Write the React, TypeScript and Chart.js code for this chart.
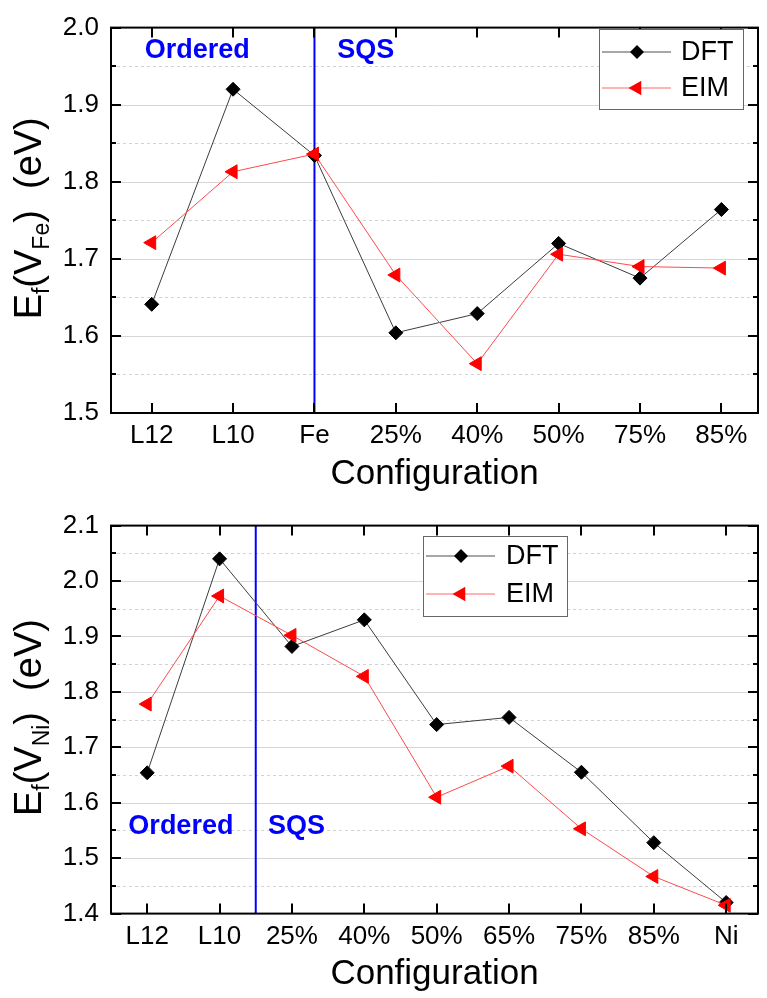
import React, { useEffect, useRef } from "react";
import { Chart, registerables } from "chart.js";

Chart.register(...registerables);

// ---------- data ----------
const topCategories = ["L12", "L10", "Fe", "25%", "40%", "50%", "75%", "85%"];
const topDFT = [1.641, 1.92, 1.834, 1.604, 1.629, 1.72, 1.675, 1.764];
const topEIM = [1.721, 1.813, 1.836, 1.679, 1.564, 1.706, 1.69, 1.688];
const topYTicks = [1.5, 1.6, 1.7, 1.8, 1.9, 2.0];
const topYTickLabels = ["1.5", "1.6", "1.7", "1.8", "1.9", "2.0"];

const bottomCategories = ["L12", "L10", "25%", "40%", "50%", "65%", "75%", "85%", "Ni"];
const bottomDFT = [1.654, 2.04, 1.882, 1.93, 1.741, 1.754, 1.655, 1.528, 1.42];
const bottomEIM = [1.778, 1.973, 1.902, 1.828, 1.61, 1.666, 1.553, 1.467, 1.415];
const bottomYTicks = [1.4, 1.5, 1.6, 1.7, 1.8, 1.9, 2.0, 2.1];
const bottomYTickLabels = ["1.4", "1.5", "1.6", "1.7", "1.8", "1.9", "2.0", "2.1"];

const seriesNames = ["DFT", "EIM"];
const regionNames = ["Ordered", "SQS"];

const FONT = "'Liberation Sans', Arial, Helvetica, sans-serif";

// ---------- plugin ----------
const decorPlugin = {
  id: "decor",
  beforeDatasetsDraw(chart: any, _args: any, opts: any) {
    const { ctx, chartArea: a, scales } = chart;
    const x = scales.x;
    const y = scales.y;
    const ticks: number[] = opts.yTicks;
    ctx.save();
    ctx.lineWidth = 1;
    for (let i = 0; i < ticks.length; i++) {
      if (i > 0 && i < ticks.length - 1) {
        const py = Math.round(y.getPixelForValue(ticks[i])) + 0.5;
        ctx.setLineDash([]);
        ctx.strokeStyle = "#d6d6d6";
        ctx.beginPath();
        ctx.moveTo(a.left, py);
        ctx.lineTo(a.right, py);
        ctx.stroke();
      }
      if (i < ticks.length - 1) {
        const mid = (ticks[i] + ticks[i + 1]) / 2;
        const py = Math.round(y.getPixelForValue(mid)) + 0.5;
        ctx.setLineDash([3, 3]);
        ctx.strokeStyle = "#d2d2d2";
        ctx.beginPath();
        ctx.moveTo(a.left, py);
        ctx.lineTo(a.right, py);
        ctx.stroke();
      }
    }
    ctx.setLineDash([]);
    // divider
    const px = x.getPixelForValue(opts.dividerAt);
    ctx.strokeStyle = "#0000ff";
    ctx.lineWidth = 2;
    ctx.beginPath();
    ctx.moveTo(px, a.top);
    ctx.lineTo(px, a.bottom);
    ctx.stroke();
    ctx.restore();
  },
  afterDatasetsDraw(chart: any, _args: any, opts: any) {
    const { ctx, chartArea: a, scales } = chart;
    const x = scales.x;
    const y = scales.y;
    const ticks: number[] = opts.yTicks;
    const cats: string[] = opts.categories;
    ctx.save();
    // frame
    ctx.strokeStyle = "#000";
    ctx.lineWidth = 2;
    ctx.strokeRect(a.left, a.top, a.right - a.left, a.bottom - a.top);
    // ticks
    ctx.beginPath();
    cats.forEach((_c, i) => {
      const px = Math.round(x.getPixelForValue(i));
      ctx.moveTo(px, a.bottom);
      ctx.lineTo(px, a.bottom - 10);
      ctx.moveTo(px, a.top);
      ctx.lineTo(px, a.top + 10);
    });
    for (let i = 0; i < ticks.length; i++) {
      const py = Math.round(y.getPixelForValue(ticks[i]));
      ctx.moveTo(a.left, py);
      ctx.lineTo(a.left + 10, py);
      ctx.moveTo(a.right, py);
      ctx.lineTo(a.right - 10, py);
      if (i < ticks.length - 1) {
        const pm = Math.round(y.getPixelForValue((ticks[i] + ticks[i + 1]) / 2));
        ctx.moveTo(a.left, pm);
        ctx.lineTo(a.left + 5, pm);
        ctx.moveTo(a.right, pm);
        ctx.lineTo(a.right - 5, pm);
      }
    }
    ctx.stroke();

    // region texts
    ctx.fillStyle = "#0000ff";
    ctx.font = `bold 27px ${FONT}`;
    ctx.textAlign = "left";
    ctx.textBaseline = "alphabetic";
    opts.texts.forEach((t: any) => {
      ctx.fillText(t.text, x.getPixelForValue(t.x), y.getPixelForValue(t.y));
    });

    // legend
    const L = opts.legend;
    ctx.fillStyle = "#fff";
    ctx.fillRect(L.x0, L.y0, L.x1 - L.x0, L.y1 - L.y0);
    ctx.strokeStyle = "#666";
    ctx.lineWidth = 1;
    ctx.strokeRect(L.x0 + 0.5, L.y0 + 0.5, L.x1 - L.x0, L.y1 - L.y0);
    const rows = [L.row0, L.row1];
    seriesNames.forEach((name, i) => {
      const ry = rows[i];
      ctx.strokeStyle = i === 0 ? "#8a8a8a" : "#ff9a9a";
      ctx.lineWidth = 1.5;
      ctx.beginPath();
      ctx.moveTo(L.lineX0, ry);
      ctx.lineTo(L.lineX1, ry);
      ctx.stroke();
      const mx = L.markX;
      ctx.fillStyle = i === 0 ? "#000" : "#ff0000";
      ctx.beginPath();
      if (i === 0) {
        const r = 7;
        ctx.moveTo(mx, ry - r);
        ctx.lineTo(mx + r, ry);
        ctx.lineTo(mx, ry + r);
        ctx.lineTo(mx - r, ry);
      } else {
        const r = 8.5;
        ctx.moveTo(mx - r, ry);
        ctx.lineTo(mx + r * 0.5, ry - r * 0.866);
        ctx.lineTo(mx + r * 0.5, ry + r * 0.866);
      }
      ctx.closePath();
      ctx.fill();
      ctx.fillStyle = "#000";
      ctx.font = `27px ${FONT}`;
      ctx.textBaseline = "middle";
      ctx.textAlign = "left";
      ctx.fillText(name, L.textX, ry + 1);
    });

    // y title with subscripts
    const parts: { t: string; sub: boolean }[] = [
      { t: "E", sub: false },
      { t: "f", sub: true },
      { t: "(V", sub: false },
      { t: opts.sub, sub: true },
      { t: ")  (eV)", sub: false },
    ];
    const mainFont = `38px ${FONT}`;
    const subFont = `23px ${FONT}`;
    let total = 0;
    parts.forEach((p) => {
      ctx.font = p.sub ? subFont : mainFont;
      total += ctx.measureText(p.t).width;
    });
    const cy = (a.top + a.bottom) / 2 - 2;
    ctx.translate(opts.titleBaseX, cy);
    ctx.rotate(-Math.PI / 2);
    ctx.fillStyle = "#000";
    ctx.textBaseline = "alphabetic";
    ctx.textAlign = "left";
    let cx = -total / 2;
    parts.forEach((p) => {
      ctx.font = p.sub ? subFont : mainFont;
      ctx.fillText(p.t, cx, p.sub ? 8 : 0);
      cx += ctx.measureText(p.t).width;
    });
    ctx.restore();
  },
};

function buildConfig(p: any) {
  const cats: string[] = p.categories;
  return {
    type: "line",
    data: {
      datasets: [
        {
          label: seriesNames[0],
          data: p.dft.map((v: number, i: number) => ({ x: i, y: v })),
          borderColor: "#3c3c3c",
          borderWidth: 1,
          pointStyle: "rectRot",
          pointRadius: 7,
          pointHoverRadius: 7,
          pointBackgroundColor: "#000",
          pointBorderColor: "#000",
          pointBorderWidth: 1,
          tension: 0,
          order: 2,
        },
        {
          label: seriesNames[1],
          data: p.eim.map((v: number, i: number) => ({ x: i, y: v })),
          borderColor: "#ff4a4a",
          borderWidth: 1,
          pointStyle: "triangle",
          pointRotation: -90,
          pointRadius: 8,
          pointHoverRadius: 8,
          pointBackgroundColor: "#ff0000",
          pointBorderColor: "#ff0000",
          pointBorderWidth: 1,
          tension: 0,
          order: 1,
        },
      ],
    },
    options: {
      responsive: false,
      animation: false,
      devicePixelRatio: 1,
      layout: { padding: { top: p.padTop, left: 0, right: 1, bottom: 0 } },
      plugins: {
        legend: { display: false },
        tooltip: { enabled: false },
        decor: p.decor,
      },
      scales: {
        x: {
          type: "linear",
          bounds: "data",
          min: -0.5,
          max: p.xMax,
          grid: { display: false, drawTicks: false },
          border: { display: false },
          afterBuildTicks: (s: any) => {
            s.ticks = cats.map((_c, i) => ({ value: i }));
          },
          ticks: {
            autoSkip: false,
            maxRotation: 0,
            padding: p.labelPad,
            color: "#000",
            font: { family: FONT, size: 26 },
            callback: (v: any) => cats[v] ?? "",
          },
          title: {
            display: true,
            text: "Configuration",
            color: "#000",
            font: { family: FONT, size: 35 },
            padding: { top: 0, bottom: p.titlePadBottom },
          },
          afterFit: (s: any) => {
            s.height = p.xAxisHeight;
          },
        },
        y: {
          type: "linear",
          bounds: "data",
          min: p.yTicks[0],
          max: p.yTicks[p.yTicks.length - 1],
          grid: { display: false, drawTicks: false },
          border: { display: false },
          afterBuildTicks: (s: any) => {
            s.ticks = p.yTicks.map((v: number) => ({ value: v }));
          },
          ticks: {
            padding: 12,
            color: "#000",
            font: { family: FONT, size: 26 },
            callback: (_v: any, i: number) => p.yTickLabels[i],
          },
          afterFit: (s: any) => {
            s.width = 111;
          },
        },
      },
    },
    plugins: [decorPlugin],
  };
}

function ChartCanvas({ config, width, height, top }: any) {
  const ref = useRef<HTMLCanvasElement | null>(null);
  useEffect(() => {
    if (!ref.current) return;
    const chart = new Chart(ref.current, config);
    return () => chart.destroy();
  }, []);
  return (
    <canvas
      ref={ref}
      width={width}
      height={height}
      style={{ position: "absolute", left: 0, top, width, height, display: "block" }}
    />
  );
}

export default function App() {
  const topConfig = buildConfig({
    categories: topCategories,
    dft: topDFT,
    eim: topEIM,
    yTicks: topYTicks,
    yTickLabels: topYTickLabels,
    xMax: 7.45,
    padTop: 16,
    xAxisHeight: 82,
    labelPad: 7,
    titlePadBottom: 0,
    decor: {
      yTicks: topYTicks,
      categories: topCategories,
      dividerAt: 2,
      sub: "Fe",
      titleBaseX: 41,
      texts: [
        { text: regionNames[0], x: -0.085, y: 1.96 },
        { text: regionNames[1], x: 2.28, y: 1.96 },
      ],
      legend: { x0: 599, y0: 29, x1: 743, y1: 109, row0: 52, row1: 88, lineX0: 602, lineX1: 671, markX: 637, textX: 681 },
    },
  });
  const bottomConfig = buildConfig({
    categories: bottomCategories,
    dft: bottomDFT,
    eim: bottomEIM,
    yTicks: bottomYTicks,
    yTickLabels: bottomYTickLabels,
    xMax: 8.44,
    padTop: 18,
    xAxisHeight: 84.4,
    labelPad: 8,
    titlePadBottom: 2.5,
    decor: {
      yTicks: bottomYTicks,
      categories: bottomCategories,
      dividerAt: 1.5,
      sub: "Ni",
      titleBaseX: 41,
      texts: [
        { text: regionNames[0], x: -0.26, y: 1.544 },
        { text: regionNames[1], x: 1.67, y: 1.544 },
      ],
      legend: { x0: 423, y0: 38, x1: 567, y1: 118, row0: 58, row1: 96, lineX0: 426, lineX1: 495, markX: 461, textX: 506 },
    },
  });
  return (
    <div style={{ position: "absolute", left: 0, top: 0, width: 767, height: 998, background: "#fff" }}>
      <ChartCanvas config={topConfig} width={767} height={495} top={0} />
      <ChartCanvas config={bottomConfig} width={767} height={500} top={498} />
    </div>
  );
}
